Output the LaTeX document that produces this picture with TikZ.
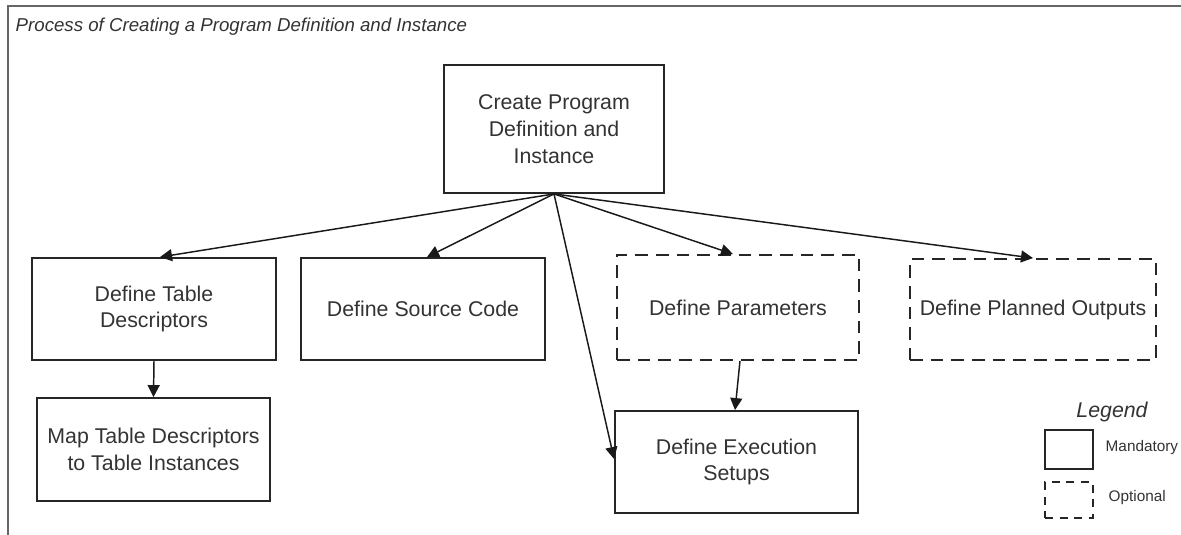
\documentclass[tikz,border=0pt]{standalone}
\usepackage{fontspec}
\setmainfont{Liberation Sans}
\usetikzlibrary{arrows.meta}
\newdimen\pxu \pxu=0.75pt
\tikzset{
  box/.style={draw=black!85, line width=1.4pt, inner sep=0pt, align=center,
    text=black!80, font=\fontsize{16}{20}\selectfont},
  optbox/.style={box, dash pattern=on 9.5pt off 6pt},
  arr/.style={draw=black!90, line width=1.1pt, -{Triangle[length=9pt,width=9pt]}},
  frame/.style={draw=black!60, line width=1.8pt}
}
\begin{document}
\begin{tikzpicture}[x=0.75pt,y=-0.75pt]
\useasboundingbox (0,0) rectangle (1181,535);
\draw[frame] (8,535) -- (8,6) -- (1181,6);
\node[anchor=base west, text=black!80, font=\fontsize{14}{16}\selectfont\itshape] (title) at (11,32) {Process of Creating a Program Definition and Instance};

\node[box, minimum width=220\pxu, minimum height=128\pxu] (top) at (554,129) {Create Program\\Definition and\\Instance};
\node[box, minimum width=244\pxu, minimum height=102\pxu] (tbl) at (154,309) {Define Table\\Descriptors};
\node[box, minimum width=233\pxu, minimum height=103\pxu] (map) at (153.5,449.5) {Map Table Descriptors\\to Table Instances};
\node[box, minimum width=244\pxu, minimum height=102\pxu] (src) at (423,309) {Define Source Code};
\node[optbox, minimum width=242\pxu, minimum height=105\pxu] (par) at (738,307.5) {Define Parameters};
\node[optbox, minimum width=246\pxu, minimum height=101\pxu] (plan) at (1033,309.5) {Define Planned Outputs};
\node[box, minimum width=243\pxu, minimum height=102\pxu] (exe) at (736.5,462) {Define Execution\\Setups};

\draw[arr] (top.south) -- ([xshift=6\pxu]tbl.north);
\draw[arr] (top.south) -- ([xshift=4\pxu]src.north);
\draw[arr] (top.south) -- ([yshift=3\pxu]exe.west);
\draw[arr] (top.south) -- ([xshift=-5\pxu]par.north);
\draw[arr] (top.south) -- (plan.north);
\draw[arr] ([xshift=2\pxu]par.south) -- ([xshift=-1.5\pxu]exe.north);
\draw[arr] (tbl.south) -- (map.north);

\node[text=black!80, font=\fontsize{16}{18}\selectfont\itshape] (leg) at (1112,412) {Legend};
\node[box, line width=1.2pt, minimum width=48\pxu, minimum height=39\pxu] (man) at (1069,449.5) {};
\node[optbox, line width=1.2pt, dash pattern=on 6pt off 5pt, minimum width=48\pxu, minimum height=36\pxu] (opt) at (1069,500) {};
\node[anchor=west, text=black!80, font=\fontsize{11.5}{13}\selectfont] (mant) at (1101,448) {Mandatory};
\node[anchor=west, text=black!80, font=\fontsize{11.5}{13}\selectfont] (optt) at (1104,498) {Optional};
\end{tikzpicture}
\end{document}
